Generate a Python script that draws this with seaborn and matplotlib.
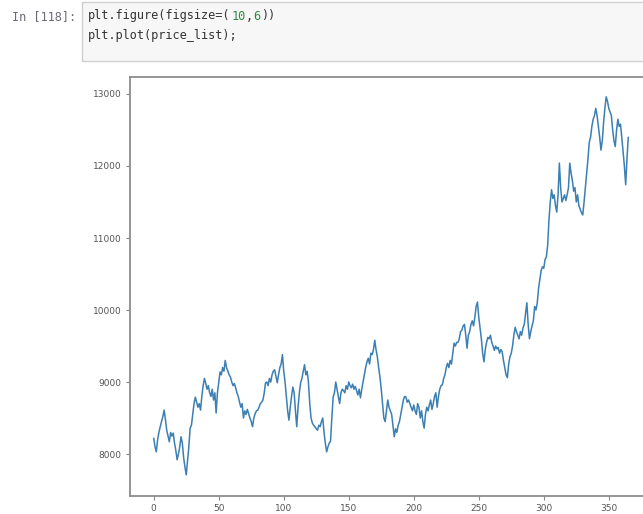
import numpy as np
import matplotlib
matplotlib.use("Agg")
import matplotlib.pyplot as plt
import seaborn as sns

# daily closing prices, one value per day
price_list = [
    8220, 8100, 8030, 8200, 8300, 8380, 8450, 8520, 8610, 8480,
    8330, 8250, 8170, 8300, 8250, 8290, 8150, 8050, 7920, 8000,
    8100, 8240, 8150, 7950, 7820, 7710, 7900, 8100, 8360, 8400,
    8550, 8700, 8790, 8720, 8650, 8700, 8610, 8800, 8950, 9050,
    8980, 8900, 8950, 8850, 8800, 8900, 8750, 8850, 8570, 8850,
    9000, 9140, 9100, 9200, 9150, 9300, 9200, 9150, 9100, 9070,
    9000, 8950, 8980, 8920, 8850, 8800, 8720, 8650, 8700, 8500,
    8600, 8550, 8620, 8560, 8500, 8450, 8380, 8500, 8560, 8600,
    8610, 8650, 8700, 8720, 8750, 8850, 8990, 9000, 8950, 9050,
    9000, 9100, 9150, 9170, 9080, 8990, 9100, 9200, 9250, 9380,
    9150, 9000, 8800, 8600, 8470, 8650, 8800, 8930, 8850, 8600,
    8380, 8650, 8850, 8990, 9050, 9150, 9240, 9100, 9150, 9000,
    8700, 8500, 8430, 8400, 8380, 8350, 8330, 8400, 8380, 8450,
    8500, 8300, 8150, 8030, 8100, 8150, 8180, 8500, 8790, 8850,
    9000, 8900, 8800, 8700, 8850, 8900, 8880, 8850, 8950, 8900,
    9000, 8950, 8920, 8970, 8900, 8940, 8880, 8820, 8900, 8780,
    8900, 9000, 9100, 9200, 9280, 9330, 9250, 9400, 9380, 9450,
    9580, 9450, 9350, 9200, 9070, 8900, 8700, 8500, 8450, 8600,
    8750, 8650, 8600, 8550, 8400, 8240, 8350, 8300, 8400, 8450,
    8550, 8650, 8750, 8800, 8790, 8720, 8750, 8700, 8650, 8600,
    8680, 8600, 8550, 8700, 8650, 8500, 8600, 8450, 8360, 8550,
    8650, 8600, 8680, 8750, 8620, 8700, 8800, 8850, 8650, 8800,
    8900, 8950, 8960, 9050, 9100, 9200, 9260, 9200, 9300, 9250,
    9400, 9540, 9500, 9550, 9550, 9600, 9700, 9720, 9780, 9800,
    9650, 9470, 9650, 9700, 9800, 9850, 9780, 9900, 10050, 10110,
    9900, 9750, 9600, 9400, 9280, 9450, 9550, 9620, 9600, 9650,
    9550, 9500, 9440, 9500, 9460, 9480, 9400, 9450, 9420, 9300,
    9200, 9100, 9060, 9250, 9350, 9400, 9500, 9650, 9760, 9700,
    9650, 9600, 9700, 9650, 9750, 9800, 9950, 10100, 9800, 9600,
    9700, 9780, 9850, 10050, 10000, 10100, 10300, 10420, 10550, 10600,
    10580, 10700, 10740, 10900, 11250, 11500, 11670, 11550, 11600, 11450,
    11360, 11600, 12040, 11700, 11500, 11550, 11600, 11520, 11600, 11700,
    12040, 11900, 11800, 11650, 11700, 11500, 11600, 11450, 11400, 11350,
    11320, 11500, 11700, 11900, 12100, 12330, 12400, 12550, 12650, 12700,
    12800, 12700, 12550, 12400, 12220, 12350, 12600, 12800, 12960, 12900,
    12800, 12750, 12700, 12500, 12350, 12270, 12500, 12650, 12550, 12580,
    12400, 12200, 12000, 11740, 12100, 12400,
]
days = list(range(len(price_list)))

x_ticks = [0, 50, 100, 150, 200, 250, 300, 350]
y_ticks = [8000, 9000, 10000, 11000, 12000, 13000]

sns.set_theme(style="white")
plt.rcParams["font.family"] = ["DejaVu Sans"]

W, H = 643, 514
fig = plt.figure(figsize=(W / 100, H / 100), dpi=100)
fig.patch.set_facecolor("white")

# notebook input cell
cell_left, cell_top, cell_bottom = 82, 2, 61
fig.patches.append(plt.Rectangle(
    (cell_left / W, 1 - cell_bottom / H), (W - cell_left + 5) / W,
    (cell_bottom - cell_top) / H, transform=fig.transFigure,
    facecolor="#f7f7f7", edgecolor="#cfcfcf", linewidth=1.0))

fig.text(12 / W, 1 - 17 / H, "In [118]:", family="DejaVu Sans Mono",
         fontsize=8.6, color="#6b6b78", va="center", ha="left")

mono = 8.6
char_px = 0.602 * mono * 100 / 72
code_x0 = 88


def code_line(y_px, pieces):
    col = 0
    for txt, color in pieces:
        fig.text((code_x0 + col * char_px) / W, 1 - y_px / H, txt,
                 family="DejaVu Sans Mono", fontsize=mono, color=color,
                 va="center", ha="left")
        col += len(txt)


code_line(16, [("plt.figure(figsize=(", "#333333"), ("10", "#2a8a3a"),
               (",", "#333333"), ("6", "#2a8a3a"), ("))", "#333333")])
code_line(36, [("plt.plot(price_list);", "#333333")])

# plot area (the right edge runs past the visible canvas)
ax_left, ax_top, ax_bottom = 130, 77, 496
ax_w = 522
ax = fig.add_axes([ax_left / W, 1 - ax_bottom / H, ax_w / W,
                   (ax_bottom - ax_top) / H])
ax.set_facecolor("white")

sns.lineplot(x=days, y=price_list, ax=ax, color="#3b7fb3", linewidth=1.1)

ax.set_xlim(-18.25, 383.25)
ax.set_ylim(7417, 13236)
ax.set_xticks(x_ticks)
ax.set_yticks(y_ticks)
ax.set_xticklabels([str(t) for t in x_ticks])
ax.set_yticklabels([str(t) for t in y_ticks])
ax.tick_params(axis="both", which="major", length=3, width=0.8,
               color="#888888", labelsize=6.5, labelcolor="#555555",
               direction="out", pad=3, bottom=True, left=True)
for side in ["left", "bottom", "top"]:
    ax.spines[side].set_visible(True)
    ax.spines[side].set_color("#8c8c8c")
    ax.spines[side].set_linewidth(1.3)
ax.spines["right"].set_visible(False)
ax.set_xlabel("")
ax.set_ylabel("")
ax.grid(False)

fig.savefig("out.png", dpi=100)
